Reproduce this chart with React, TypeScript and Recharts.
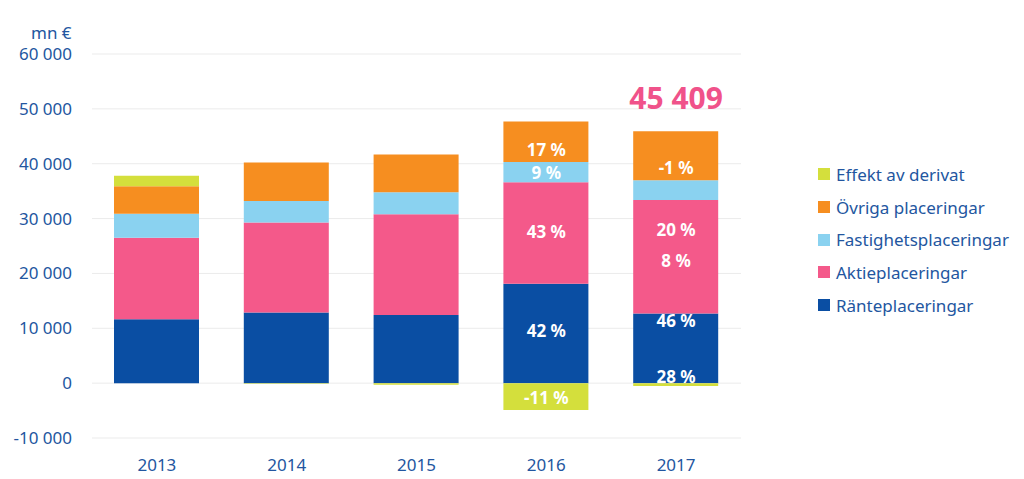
import React from 'react';
import { BarChart, Bar, XAxis, YAxis, CartesianGrid, ReferenceDot } from 'recharts';

const years = ['2013', '2014', '2015', '2016', '2017'];
const rante = [11650, 12900, 12400, 18100, 12700];
const aktie = [14850, 16400, 18400, 18500, 20700];
const fastighet = [4400, 3900, 4000, 3700, 3600];
const ovriga = [5000, 7000, 6900, 7400, 8900];
const derivat = [1900, -100, -300, -4900, -500];

const yTicks = [-10000, 0, 10000, 20000, 30000, 40000, 50000, 60000];

// free-standing return annotations (year, height, text)
const noteYears = ['2016', '2016', '2016', '2016', '2016', '2017', '2017', '2017', '2017', '2017'];
const noteValues = [42500, 38400, 27600, 9500, -2700, 39300, 27900, 22200, 11300, 1100];
const noteTexts = ['17 %', '9 %', '43 %', '42 %', '-11 %', '-1 %', '20 %', '8 %', '46 %', '28 %'];

const totalYear = '2017';
const totalValue = 52000;
const totalText = '45 409';

const series = [
    { key: 'rante', name: 'Ränteplaceringar', color: '#0a4ea3' },
    { key: 'aktie', name: 'Aktieplaceringar', color: '#f4598a' },
    { key: 'fastighet', name: 'Fastighetsplaceringar', color: '#8ad2f0' },
    { key: 'ovriga', name: 'Övriga placeringar', color: '#f68e20' },
    { key: 'derivat', name: 'Effekt av derivat', color: '#d4df3c' },
];

const data = years.map((year, i) => ({
    year,
    rante: rante[i],
    aktie: aktie[i],
    fastighet: fastighet[i],
    ovriga: ovriga[i],
    derivat: derivat[i],
}));

const textColor = '#2356a0';
const font = '"Noto Sans", sans-serif';

function formatTick(v: number): string {
    const s = Math.abs(v).toString().replace(/\B(?=(\d{3})+(?!\d))/g, ' ');
    return (v < 0 ? '-' : '') + s;
}

export default function App() {
    return (
        <div style={{ position: 'absolute', left: 0, top: 0, width: 1024, height: 479, background: '#fff', fontFamily: font }}>
            <div style={{ position: 'absolute', left: 31, top: 24, fontSize: 17, lineHeight: '17px', color: textColor }}>mn €</div>
            <BarChart
                width={760}
                height={479}
                data={data}
                stackOffset="sign"
                margin={{ top: 54, right: 19, bottom: 11, left: 0 }}
                barSize={85}
            >
                <CartesianGrid vertical={false} stroke="#ebebeb" />
                <XAxis
                    dataKey="year"
                    axisLine={false}
                    tickLine={false}
                    height={30}
                    tickMargin={15}
                    tick={{ fill: textColor, fontSize: 17, fontFamily: font }}
                />
                <YAxis
                    width={92}
                    domain={[-10000, 60000]}
                    ticks={yTicks}
                    axisLine={false}
                    tickLine={false}
                    tickMargin={14}
                    tickFormatter={formatTick}
                    tick={{ fill: textColor, fontSize: 17, fontFamily: font }}
                />
                {series.map(s => (
                    <Bar key={s.key} dataKey={s.key} name={s.name} stackId="a" fill={s.color} isAnimationActive={false} />
                ))}
                {noteTexts.map((t, i) => (
                    <ReferenceDot
                        key={i}
                        x={noteYears[i]}
                        y={noteValues[i]}
                        r={0}
                        stroke="none"
                        fill="none"
                        label={{ value: t, position: 'center', fill: '#fff', fontSize: 17, fontWeight: 700, fontFamily: font }}
                    />
                ))}
                <ReferenceDot
                    x={totalYear}
                    y={totalValue}
                    r={0}
                    stroke="none"
                    fill="none"
                    label={{ value: totalText, position: 'center', fill: '#f0528a', fontSize: 30, fontWeight: 700, fontFamily: font }}
                />
            </BarChart>
            <div style={{ position: 'absolute', left: 818, top: 158 }}>
                {series.slice().reverse().map(s => (
                    <div key={s.key} style={{ display: 'flex', alignItems: 'center', height: 32.7, fontSize: 17, color: textColor }}>
                        <span style={{ width: 12, height: 12, background: s.color, marginRight: 6, display: 'inline-block' }} />
                        {s.name}
                    </div>
                ))}
            </div>
        </div>
    );
}
